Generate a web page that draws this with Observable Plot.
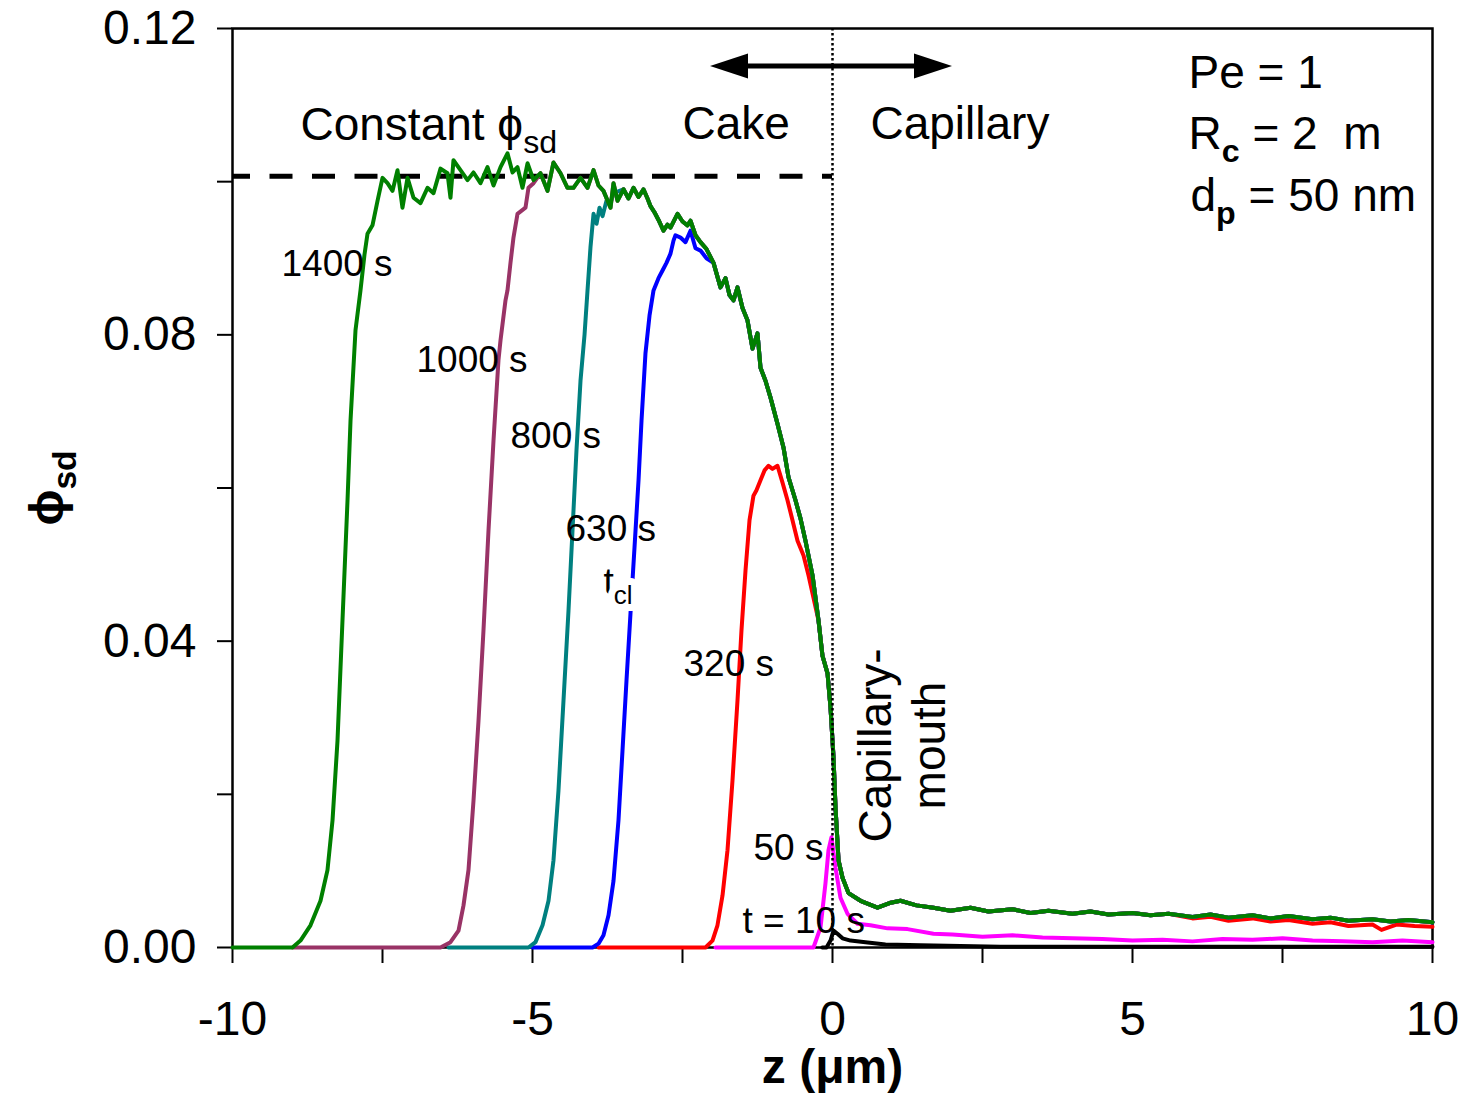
<!DOCTYPE html>
<html><head><meta charset="utf-8">
<script src="https://cdn.jsdelivr.net/npm/d3@7"></script>
<script src="https://cdn.jsdelivr.net/npm/@observablehq/plot@0.6"></script>
<style>body{margin:0;background:#fff}</style>
</head><body><div id="chart"></div>
<script>
// ---- data: [z (µm), phi_sd] ----
const greenRise = [[-10,0],[-9.0,0],[-8.867,0.0009],[-8.7,0.0029],[-8.533,0.0061],[-8.417,0.0101],[-8.333,0.0166],[-8.25,0.0270],[-8.167,0.0427],[-8.083,0.0584],[-8.033,0.0688],[-7.95,0.0806],[-7.867,0.0858],[-7.8,0.0905],[-7.75,0.0932],[-7.667,0.0943],[-7.583,0.0975],[-7.5,0.1005],[-7.417,0.0998],[-7.333,0.0988],[-7.25,0.1015],[-7.167,0.0966],[-7.083,0.1005],[-6.983,0.0979],[-6.867,0.0972],[-6.75,0.0992],[-6.65,0.0985],[-6.533,0.1017],[-6.417,0.1011],[-6.367,0.0979],[-6.317,0.1028],[-6.2,0.1015],[-6.083,0.1002],[-5.983,0.1012],[-5.867,0.0998],[-5.75,0.1019],[-5.65,0.0995],[-5.533,0.1019],[-5.417,0.1037],[-5.333,0.1012],[-5.25,0.1019],[-5.167,0.0992],[-5.083,0.1024],[-4.983,0.1002]];
const envelope = [[-4.867,0.1011],[-4.75,0.0988],[-4.65,0.1025],[-4.533,0.1011],[-4.417,0.0992],[-4.317,0.0992],[-4.2,0.1005],[-4.083,0.0992],[-3.983,0.1015],[-3.9,0.0995],[-3.817,0.0988],[-3.7,0.0966],[-3.65,0.0998],[-3.583,0.0975],[-3.483,0.0990],[-3.4,0.0978],[-3.317,0.0992],[-3.233,0.0980],[-3.15,0.0990],[-3.083,0.0978],[-3.033,0.0968],[-2.967,0.0960],[-2.9,0.0950],[-2.817,0.0936],[-2.75,0.0944],[-2.7,0.0940],[-2.583,0.0958],[-2.5,0.0948],[-2.417,0.0943],[-2.367,0.0949],[-2.283,0.0930],[-2.2,0.0921],[-2.1,0.0912],[-1.983,0.0894],[-1.867,0.0862],[-1.783,0.0874],[-1.717,0.0852],[-1.65,0.0845],[-1.583,0.0862],[-1.5,0.0835],[-1.417,0.0819],[-1.333,0.0782],[-1.25,0.0802],[-1.2,0.0757],[-1.117,0.0740],[-1.033,0.0718],[-0.917,0.0684],[-0.817,0.0653],[-0.733,0.0614],[-0.617,0.0584],[-0.533,0.0560],[-0.45,0.0531],[-0.333,0.0486],[-0.233,0.0427],[-0.167,0.0381],[-0.083,0.0358],[-0.033,0.0313],[0.017,0.0248],[0.05,0.0183],[0.1,0.0114],[0.167,0.0091],[0.267,0.0071],[0.467,0.0061],[0.75,0.0052],[0.95,0.0058],[1.133,0.0061],[1.4,0.0055],[1.683,0.0052],[1.967,0.0048],[2.3,0.0052],[2.6,0.0047],[3.0,0.0050],[3.3,0.0045],[3.6,0.0048],[4.0,0.0044],[4.3,0.0047],[4.6,0.0043],[5.0,0.0045],[5.3,0.0042],[5.6,0.0044],[6.0,0.0040],[6.3,0.0043],[6.6,0.0039],[7.0,0.0042],[7.3,0.0038],[7.6,0.0041],[8.0,0.0037],[8.3,0.0039],[8.6,0.0035],[9.0,0.0037],[9.3,0.0034],[9.6,0.0036],[10.0,0.0033]];
const maroonRise = [[-9.0,0],[-6.533,0],[-6.367,0.0007],[-6.233,0.0022],[-6.15,0.0055],[-6.067,0.0101],[-5.983,0.0192],[-5.9,0.0296],[-5.817,0.0414],[-5.733,0.0545],[-5.65,0.0662],[-5.567,0.0767],[-5.533,0.0793],[-5.45,0.0845],[-5.417,0.0858],[-5.367,0.0894],[-5.317,0.0927],[-5.25,0.0958],[-5.117,0.0966],[-5.067,0.0992],[-4.983,0.0998]];
const tealRise = [[-6.4,0],[-5.067,0],[-4.95,0.0007],[-4.833,0.0029],[-4.733,0.0061],[-4.65,0.0114],[-4.567,0.0205],[-4.483,0.0323],[-4.4,0.0440],[-4.333,0.0545],[-4.267,0.0649],[-4.2,0.0740],[-4.133,0.0800],[-4.083,0.0858],[-4.033,0.0915],[-3.983,0.0958],[-3.933,0.0945],[-3.883,0.0966],[-3.833,0.0955],[-3.767,0.0975],[-3.7,0.0972],[-3.65,0.0985]];
const blueRise = [[-5.0,0],[-4.0,0],[-3.9,0.0005],[-3.817,0.0016],[-3.733,0.0042],[-3.65,0.0087],[-3.567,0.0166],[-3.5,0.0257],[-3.433,0.0349],[-3.367,0.0436],[-3.3,0.0522],[-3.233,0.0610],[-3.183,0.0688],[-3.117,0.0776],[-3.05,0.0825],[-2.983,0.0858],[-2.9,0.0874],[-2.833,0.0884],[-2.767,0.0894],[-2.7,0.0906],[-2.65,0.0923],[-2.617,0.0930],[-2.533,0.0927],[-2.45,0.0921],[-2.367,0.0936],[-2.283,0.0913],[-2.2,0.0910],[-2.1,0.0900]];
const redRise = [[-3.9,0],[-2.117,0],[-2.0,0.0009],[-1.917,0.0029],[-1.833,0.0068],[-1.75,0.0127],[-1.667,0.0218],[-1.583,0.0323],[-1.517,0.0414],[-1.45,0.0492],[-1.383,0.0558],[-1.317,0.0590],[-1.267,0.0597],[-1.2,0.0610],[-1.133,0.0623],[-1.067,0.0629],[-1.0,0.0625],[-0.917,0.0629],[-0.833,0.0607],[-0.75,0.0584],[-0.667,0.0558],[-0.583,0.0531],[-0.483,0.0512],[-0.4,0.0486]];
const redTail = [[6.0,0.0038],[6.3,0.0040],[6.6,0.0035],[7.0,0.0038],[7.3,0.0034],[7.6,0.0036],[8.0,0.0031],[8.3,0.0033],[8.6,0.0028],[9.0,0.0030],[9.15,0.0023],[9.4,0.0030],[9.7,0.0028],[10.0,0.0027]];
const magentaCurve = [[-1.95,0],[-0.317,0],[-0.2,0.0026],[-0.117,0.0084],[-0.067,0.0127],[-0.017,0.0144],[0.05,0.0104],[0.133,0.0065],[0.25,0.0044],[0.417,0.0031],[0.633,0.0029],[0.917,0.0025],[1.25,0.0024],[1.683,0.0018],[2.0,0.0017],[2.5,0.0014],[3.0,0.0016],[3.5,0.0013],[4.0,0.0012],[4.5,0.0011],[5.0,0.0009],[5.5,0.0010],[6.0,0.0008],[6.5,0.0011],[7.0,0.0010],[7.5,0.0012],[8.0,0.0009],[8.5,0.0008],[9.0,0.0007],[9.5,0.0009],[10.0,0.0007]];
const blackCurve = [[-0.17,0],[-0.1,0],[-0.033,0.0009],[0.017,0.0022],[0.083,0.0018],[0.167,0.0012],[0.3,0.0009],[0.55,0.0007],[0.883,0.0004],[1.467,0.0003],[2.8,0.0001],[6,0.0001],[10,0.0001]];

const seriesNames  = ["10 s","50 s","320 s","630 s","800 s","1000 s","1400 s"];
const seriesColors = ["#000000","#ff00ff","#ff0000","#0000ff","#008080","#993366","#008000"];
const seriesRise   = [blackCurve, magentaCurve, redRise, blueRise, tealRise, maroonRise, greenRise];
const seriesJoin   = [null, null, -0.233, -1.983, -3.483, -4.867, -4.867];
const seriesUntil  = [null, null, 6.0, 99, 99, 99, 99];
const seriesTail   = [[], [], redTail, [], [], [], []];

const constantPhi = 0.1007;
const arrowY = 0.11504, arrowFrom = -2.033, arrowTo = 2.0;

const xTicks = [-10,-7.5,-5,-2.5,0,2.5,5,7.5,10];
const yTicks = [0,0.02,0.04,0.06,0.08,0.10,0.12];

const seriesLabels = [
  {text:"1400 s", z:-9.183, phi:0.0877},
  {text:"1000 s", z:-6.933, phi:0.0751},
  {text:"800 s",  z:-5.367, phi:0.0652},
  {text:"630 s",  z:-4.45,  phi:0.0531},
  {text:"320 s",  z:-2.483, phi:0.0355},
  {text:"50 s",   z:-1.317, phi:0.0114},
  {text:"t = 10 s", z:-1.5, phi:0.0019}
];
const regionLabels = [
  {text:"Constant \u03d5_{sd}", z:-8.867, phi:0.1054},
  {text:"Cake", z:-2.5, phi:0.1056},
  {text:"Capillary", z:0.633, phi:0.1056}
];
const paramLabels = [
  {text:"Pe = 1", z:5.933, phi:0.1122},
  {text:"R_{*c} = 2\u00a0\u00a0m", z:5.933, phi:0.1043},
  {text:"d_{*p} = 50 nm", z:5.967, phi:0.0962}
];
const tclLabel = [{text:"t_{cl}", z:-3.817, phi:0.0462}];
const mouthLabels = [
  {text:"Capillary-", z:0.967, phi:0.02638},
  {text:"mouth", z:1.883, phi:0.02638}
];

// ---- build series ----
const series = seriesNames.map((name, i) => {
  let pts = seriesRise[i].slice();
  if (seriesJoin[i] !== null) {
    pts = pts.concat(envelope.filter(d => d[0] >= seriesJoin[i] && d[0] < seriesUntil[i]));
    pts = pts.concat(seriesTail[i]);
  }
  return {name, color: seriesColors[i], pts};
});

const arrowMark = (index, scales) => {
  const g = d3.create("svg:g");
  const x1 = scales.x(arrowFrom), x2 = scales.x(arrowTo), y = scales.y(arrowY);
  const hl = 38, hw = 12.5;
  g.append("line").attr("x1", x1 + hl - 2).attr("x2", x2 - hl + 2).attr("y1", y).attr("y2", y)
    .attr("stroke", "black").attr("stroke-width", 5);
  g.append("path").attr("d", `M${x1},${y}L${x1 + hl},${y - hw}L${x1 + hl},${y + hw}Z`).attr("fill", "black");
  g.append("path").attr("d", `M${x2},${y}L${x2 - hl},${y - hw}L${x2 - hl},${y + hw}Z`).attr("fill", "black");
  return g.node();
};

const isMajorY = d => Math.round(d * 100) % 4 === 0;

const plot = Plot.plot({
  width: 1461, height: 1095,
  marginLeft: 232, marginRight: 29, marginTop: 28, marginBottom: 148,
  style: {fontFamily: "'Liberation Sans', Arial, Helvetica, sans-serif", fontSize: "46px", color: "black", background: "white", overflow: "visible"},
  x: {domain: [-10, 10], label: null},
  y: {domain: [0, 0.12], label: null},
  marks: [
    Plot.frame({stroke: "black", strokeWidth: 2.5}),
    Plot.axisX({ticks: xTicks, tickSize: 16, tickPadding: 37, strokeWidth: 2, fontSize: 48, label: null,
      tickFormat: d => (d % 5 === 0 ? String(d) : "")}),
    Plot.axisY({ticks: yTicks, tickSize: 15, tickPadding: 21, strokeWidth: 2, fontSize: 48, label: null,
      tickFormat: d => (isMajorY(d) ? d3.format(".2f")(d) : "")}),
    Plot.ruleY([constantPhi], {x1: -10, x2: 0, stroke: "black", strokeWidth: 5, strokeDasharray: "23,19.5", strokeDashoffset: 5}),
    ...series.map(s => Plot.line(s.pts, {x: d => d[0], y: d => d[1], stroke: s.color, strokeWidth: 4, strokeLinejoin: "round"})),
    Plot.ruleX([0], {stroke: "black", strokeWidth: 2.5, strokeDasharray: "2.5,2.5"}),
    arrowMark,
    Plot.text(regionLabels, {x: "z", y: "phi", text: "text", textAnchor: "start", lineAnchor: "bottom", fontSize: 46, fill: "black"}),
    Plot.text(paramLabels, {x: "z", y: "phi", text: "text", textAnchor: "start", lineAnchor: "bottom", fontSize: 46, fill: "black"}),
    Plot.text(seriesLabels, {x: "z", y: "phi", text: "text", textAnchor: "start", lineAnchor: "bottom", fontSize: 37, fill: "black"}),
    Plot.text(tclLabel, {x: "z", y: "phi", text: "text", textAnchor: "start", lineAnchor: "bottom", fontSize: 37, fill: "black", stroke: "white", strokeWidth: 14}),
    Plot.text(mouthLabels, {x: "z", y: "phi", text: "text", rotate: -90, textAnchor: "middle", lineAnchor: "bottom", fontSize: 46, fill: "black"}),
    Plot.text(["\u03d5_{sd}"], {frameAnchor: "left", dx: -170, text: d => d, rotate: -90, textAnchor: "middle", lineAnchor: "bottom", fontSize: 48, fontWeight: "bold", fill: "black"}),
    Plot.text(["z (\u03bcm)"], {frameAnchor: "bottom", dy: 135, text: d => d, textAnchor: "middle", lineAnchor: "bottom", fontSize: 48, fontWeight: "bold", fill: "black"})
  ]
});

document.getElementById("chart").appendChild(plot);

// subscripts: "_{..}" -> lowered smaller tspan; "_{*..}" -> bold subscript
d3.select(plot).selectAll("text").each(function () {
  const t = this.textContent;
  if (!t || !t.includes("_{")) return;
  const fs = parseFloat(getComputedStyle(this).fontSize) || 46;
  const shift = fs * 0.28;
  const parts = t.split(/(_\{[^}]*\})/);
  this.textContent = "";
  let shifted = false;
  for (const p of parts) {
    if (!p) continue;
    const ts = d3.select(this).append("tspan");
    if (p.startsWith("_{")) {
      let body = p.slice(2, -1);
      if (body.startsWith("*")) { body = body.slice(1); ts.attr("font-weight", "bold"); }
      ts.text(body).attr("font-size", fs * 0.7).attr("dy", shift);
      shifted = true;
    } else {
      ts.text(p);
      if (shifted) { ts.attr("dy", -shift); shifted = false; }
    }
  }
});
</script>
</body></html>
